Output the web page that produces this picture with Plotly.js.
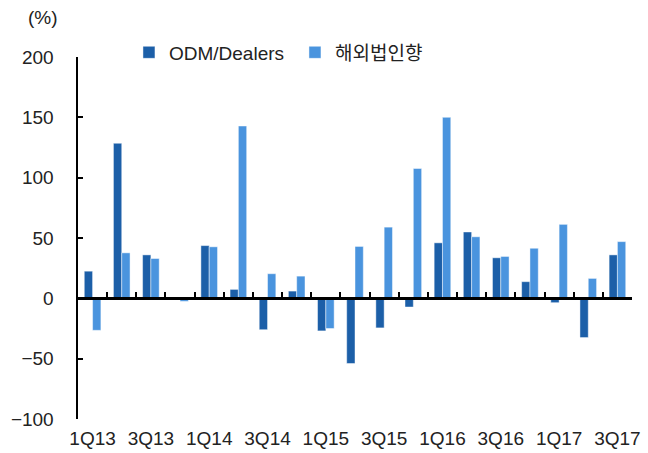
<!DOCTYPE html>
<html>
<head>
<meta charset="utf-8">
<script src="https://cdn.plot.ly/plotly-3.0.1.min.js"></script>
<style>html,body{margin:0;padding:0;background:#fff;}#chart{width:648px;height:453px;}</style>
</head>
<body>
<div id="chart"></div>
<script>
var categories = ["1Q13","2Q13","3Q13","4Q13","1Q14","2Q14","3Q14","4Q14","1Q15","2Q15","3Q15","4Q15","1Q16","2Q16","3Q16","4Q16","1Q17","2Q17","3Q17"];
var odmDealers = [22.5,128.5,36,1,43.7,7.4,-26,6,-27,-54,-24.5,-7.2,46,55,33.6,13.8,-3.6,-32.5,36];
var overseas   = [-26.5,37.7,33,-2.5,42.7,142.8,20.4,18.4,-25,43,59,107.6,150,51,34.7,41.5,61.3,16.5,47];
var tickLabels = ["1Q13","3Q13","1Q14","3Q14","1Q15","3Q15","1Q16","3Q16","1Q17","3Q17"];
var seriesNames = ["ODM/Dealers","해외법인향"];
var yTicks = [-100,-50,0,50,100,150,200];

var FONT = "Liberation Sans, 'Noto Sans CJK KR', sans-serif";
var TXT = "#222";
var idx = categories.map(function(_, i){ return i; });
var boundaries = [];
for (var b = 0; b <= categories.length; b++) boundaries.push(b - 0.5);

var traces = [
  {type:"bar", name:seriesNames[0], x:idx, y:odmDealers,
   marker:{color:"#1C5FA8", line:{color:"rgba(255,255,255,0.45)", width:1}}},
  {type:"bar", name:seriesNames[1], x:idx, y:overseas,
   marker:{color:"#4A94DE", line:{color:"rgba(255,255,255,0.45)", width:1}}},
  // invisible helper so the bottom label axis (x2) is drawn
  {type:"scatter", mode:"markers", x:idx, y:odmDealers, xaxis:"x2",
   marker:{opacity:0, size:1}, showlegend:false, hoverinfo:"skip"}
];

var layout = {
  width:648, height:453,
  margin:{l:78, r:16, t:57, b:34},
  paper_bgcolor:"#fff", plot_bgcolor:"rgba(0,0,0,0)",
  font:{family:FONT, size:19, color:TXT},
  barmode:"group", bargap:0.43, bargroupgap:0,
  showlegend:true,
  legend:{orientation:"h", x:0.092, xanchor:"left", y:1.065, yanchor:"top",
          font:{family:FONT, size:19, color:TXT}, bgcolor:"rgba(0,0,0,0)",
          itemwidth:30, entrywidth:121, entrywidthmode:"pixels", tracegroupgap:0},
  // main x axis sits on the zero line: boundary ticks pointing up, no labels
  xaxis:{type:"linear", range:[-0.5, categories.length-0.5], anchor:"free", position:1/3,
         tickvals:boundaries, showticklabels:false, ticks:"inside", ticklen:5, tickwidth:2, tickcolor:"#000",
         showline:true, linecolor:"#000", linewidth:2.5, showgrid:false, zeroline:false},
  // overlay axis at the bottom carries the category labels
  xaxis2:{type:"linear", overlaying:"x", anchor:"y", side:"bottom",
          range:[-0.5, categories.length-0.5],
          tickvals:tickLabels.map(function(t){ return categories.indexOf(t); }),
          ticktext:tickLabels, showline:false, ticks:"", showgrid:false, zeroline:false,
          ticklabelstandoff:6,
          tickfont:{family:FONT, size:19, color:TXT}},
  yaxis:{range:[-100,200], tickvals:yTicks, showline:true, linecolor:"#000", linewidth:2.5,
         ticks:"inside", ticklen:5, tickwidth:2, tickcolor:"#000", showgrid:false,
         zeroline:false, ticklabelstandoff:18,
         tickfont:{family:FONT, size:19, color:TXT}},
  annotations:[{text:"(%)", xref:"paper", yref:"paper", x:-0.094, y:1.108, xanchor:"left", yanchor:"middle",
                showarrow:false, font:{family:FONT, size:19, color:TXT}}]
};

Plotly.newPlot("chart", traces, layout, {staticPlot:true, displayModeBar:false});
</script>
</body>
</html>
